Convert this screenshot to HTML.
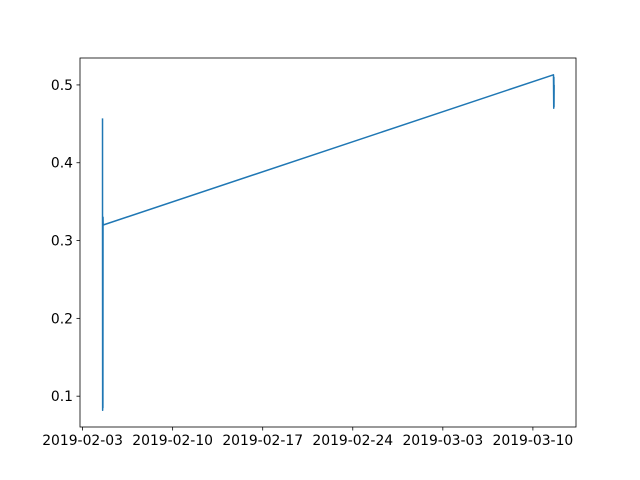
<!DOCTYPE html>
<html><head><meta charset="utf-8"><style>
body{margin:0;background:#fff;}
svg{display:block;font-family:"DejaVu Sans","Liberation Sans",sans-serif;}
</style></head><body>
<svg id="chart" width="640" height="480" viewBox="0 0 640 480">
<rect width="640" height="480" fill="#fff"/>
<g id="plot"></g>
<rect x="80" y="58" width="496" height="369" fill="none" stroke="#000" stroke-width="0.8"/>
</svg>
<script>
// days since 2019-02-03
const xDays = [1.55, 1.55, 1.56, 1.57, 1.58, 1.59, 1.6, 36.6, 36.62, 36.63, 36.64, 36.65];
const yValues = [0.457, 0.33, 0.082, 0.33, 0.085, 0.33, 0.32, 0.513, 0.47, 0.51, 0.472, 0.5];
const xTickDays = [0, 7, 14, 21, 28, 35];
const xTickLabels = ["2019-02-03","2019-02-10","2019-02-17","2019-02-24","2019-03-03","2019-03-10"];
const yTicks = [0.1, 0.2, 0.3, 0.4, 0.5];

const L=80,R=576,T=58,B=427;
const xmin=-0.2,xmax=38.35,ymin=0.0604,ymax=0.5346;
const sx=d=>L+(d-xmin)/(xmax-xmin)*(R-L);
const sy=v=>B-(v-ymin)/(ymax-ymin)*(B-T);
const ns="http://www.w3.org/2000/svg";
const g=document.getElementById('plot');
function mk(t,a){const e=document.createElementNS(ns,t);for(const k in a)e.setAttribute(k,a[k]);g.appendChild(e);return e;}

xTickDays.forEach((d,i)=>{
  const x=sx(d);
  const tk=mk('line',{x1:x,x2:x,y1:B,y2:B+3.5,stroke:'#000','stroke-width':0.8});
  
  
  const t=mk('text',{x:x,y:B+18,'text-anchor':'middle','font-size':13.9,fill:'#000'});
  t.textContent=xTickLabels[i];
  
  
});
yTicks.forEach(v=>{
  const y=sy(v);
  const tk=mk('line',{x1:L-3.5,x2:L,y1:y,y2:y,stroke:'#000','stroke-width':0.8});
  
  
  const t=mk('text',{x:L-7,y:y+5,'text-anchor':'end','font-size':13.9,fill:'#000'});
  t.textContent=v.toFixed(1);
  
  
});
const pts=xDays.map((d,i)=>sx(d).toFixed(2)+','+sy(yValues[i]).toFixed(2)).join(' ');
const line=mk('polyline',{points:pts,fill:'none',stroke:'#1f77b4','stroke-width':1.5,'stroke-linejoin':'round'});


</script>
</body></html>
